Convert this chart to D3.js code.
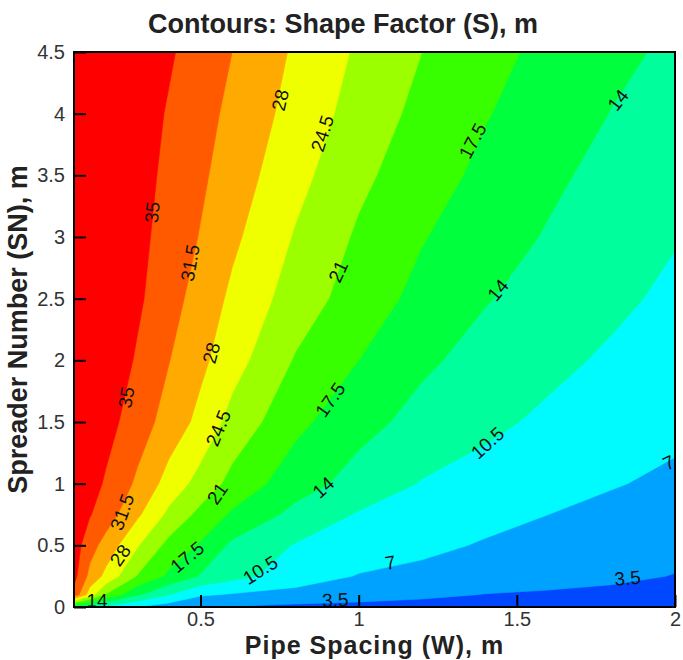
<!DOCTYPE html>
<html>
<head>
<meta charset="utf-8">
<script src="https://cdn.jsdelivr.net/npm/d3@7"></script>
<style>
  body { margin: 0; background: #fff; }
  svg text { font-family: "Liberation Sans", Arial, Helvetica, sans-serif; }
</style>
</head>
<body>
<svg id="chart" width="683" height="660"></svg>
<script>
// grid columns: pipe spacing W (m)
var pipeSpacing = [0.1, 0.15, 0.2, 0.3, 0.4, 0.5, 0.6, 0.8, 1.0, 1.2, 1.4, 1.6, 1.8, 2.0];
// grid rows: spreader number SN (m)
var spreaderNumber = [0, 0.1, 0.25, 0.5, 0.75, 1, 1.5, 2, 2.5, 3, 3.5, 4, 4.5];
// shape factor S (m), one row per SN value
var shapeFactor = [
  [14.5, 11.5,  9.5,  7.0,  5.2,  3.9,  3.3,  2.7,  2.4,  2.2,  2.0,  1.9,  1.8,  1.7],
  [34.0, 26.3, 20.8, 14.5, 10.6,  7.4,  6.7,  5.9,  5.1,  4.2,  3.4,  3.1,  2.8,  2.4],
  [36.0, 30.5, 27.1, 20.8, 16.8, 13.7, 11.7,  8.7,  6.8,  6.1,  5.4,  4.7,  4.1,  3.4],
  [36.7, 32.9, 30.2, 24.8, 19.9, 17.1, 13.3, 10.3,  9.0,  7.8,  6.7,  6.0,  5.2,  4.4],
  [37.1, 35.2, 33.3, 28.6, 23.7, 20.0, 17.0, 13.0, 10.2,  9.1,  8.0,  7.0,  6.2,  5.4],
  [38.2, 36.4, 34.6, 30.9, 26.6, 23.2, 19.9, 15.5, 12.7, 10.3,  9.3,  8.3,  7.2,  6.4],
  [39.5, 37.9, 36.3, 33.2, 30.1, 27.0, 23.3, 18.4, 15.1, 12.9, 11.2,  9.9,  8.8,  7.8],
  [40.3, 39.0, 37.5, 34.6, 31.6, 28.8, 25.9, 20.7, 17.5, 14.6, 12.8, 11.3, 10.0,  8.8],
  [40.9, 39.6, 38.2, 35.6, 32.8, 30.1, 27.3, 22.9, 19.3, 16.5, 14.2, 12.7, 11.2,  9.8],
  [41.3, 40.0, 38.3, 36.0, 33.6, 31.3, 28.7, 24.2, 20.5, 17.7, 15.6, 13.7, 12.2, 10.7],
  [41.7, 40.4, 38.6, 36.3, 34.2, 32.1, 29.8, 25.6, 21.8, 19.0, 16.7, 14.7, 12.9, 11.4],
  [42.1, 40.8, 38.9, 36.6, 34.7, 32.7, 30.7, 26.7, 23.1, 20.0, 17.7, 15.8, 13.9, 12.4],
  [42.5, 41.2, 39.4, 37.3, 35.4, 33.5, 31.5, 27.5, 24.0, 21.0, 18.6, 16.6, 14.9, 13.3]
];
var levels = [3.5, 7, 10.5, 14, 17.5, 21, 24.5, 28, 31.5, 35];
var bandColors = ["#0048ff", "#00a2ff", "#00fbff", "#00ff9c", "#00ff3c", "#38ff00",
                  "#9cff00", "#f0ff00", "#ffaa00", "#ff5a00", "#ff0000"];
var xTicks = [0.5, 1, 1.5, 2];
var yTicks = [0, 0.5, 1, 1.5, 2, 2.5, 3, 3.5, 4, 4.5];
// contour labels: [W, SN, level, angle]
var contourLabels = [
  [0.347, 3.20, 35, -84], [0.265, 1.70, 35, -80],
  [0.467, 2.79, 31.5, -80], [0.252, 0.77, 31.5, -70],
  [0.752, 4.11, 28, -77], [0.534, 2.06, 28, -75], [0.246, 0.42, 28, -55],
  [0.885, 3.84, 24.5, -72], [0.556, 1.45, 24.5, -68],
  [0.935, 2.72, 21, -65], [0.553, 0.92, 21, -55],
  [1.36, 3.78, 17.5, -62], [0.91, 1.68, 17.5, -55], [0.458, 0.405, 17.5, -40],
  [1.82, 4.11, 14, -52], [1.44, 2.57, 14, -50], [0.888, 0.97, 14, -42], [0.173, 0.05, 14, 0],
  [1.407, 1.33, 10.5, -42], [0.689, 0.30, 10.5, -32],
  [1.1, 0.36, 7, -10], [1.98, 1.17, 7, -25],
  [1.85, 0.235, 3.5, -5], [0.926, 0.057, 3.5, -3]
];

var svg = d3.select("#chart");
var plot = {left: 74, right: 675, top: 52, bottom: 607};

var x = d3.scaleLinear().domain([0.1, 2]).range([plot.left, plot.right]);
var y = d3.scaleLinear().domain([0, 4.5]).range([plot.bottom, plot.top]);

// grid index -> data value (grid is not evenly spaced)
var colToW = d3.scaleLinear().domain(d3.range(pipeSpacing.length)).range(pipeSpacing).clamp(true);
var rowToSN = d3.scaleLinear().domain(d3.range(spreaderNumber.length)).range(spreaderNumber).clamp(true);

var gridToScreen = d3.geoTransform({
  point: function(gx, gy) {
    this.stream.point(x(colToW(gx - 0.5)), y(rowToSN(gy - 0.5)));
  }
});
var path = d3.geoPath(gridToScreen);

var bands = d3.contours()
  .size([pipeSpacing.length, spreaderNumber.length])
  .thresholds(levels)(d3.merge(shapeFactor));

svg.append("clipPath").attr("id", "plotClip")
  .append("rect")
  .attr("x", plot.left).attr("y", plot.top)
  .attr("width", plot.right - plot.left).attr("height", plot.bottom - plot.top);

var area = svg.append("g").attr("clip-path", "url(#plotClip)");

area.append("rect")
  .attr("x", plot.left).attr("y", plot.top)
  .attr("width", plot.right - plot.left).attr("height", plot.bottom - plot.top)
  .style("fill", bandColors[0]);

area.selectAll("path.band")
  .data(bands)
  .enter().append("path")
  .attr("class", "band")
  .attr("d", path)
  .style("fill", function(d, i) { return bandColors[i + 1]; })
  .style("stroke", function(d, i) { return bandColors[i + 1]; })
  .style("stroke-width", 0.6);

// contour labels
area.selectAll("text.clabel")
  .data(contourLabels)
  .enter().append("text")
  .attr("class", "clabel")
  .attr("transform", function(d) {
    return "translate(" + x(d[0]) + "," + y(d[1]) + ") rotate(" + d[3] + ")";
  })
  .attr("text-anchor", "middle")
  .attr("dy", "0.35em")
  .style("font-size", "19px")
  .style("fill", "#111")
  .text(function(d) { return String(d[2]); });

// axes, ticks pointing inward
var xAxis = d3.axisBottom(x).tickValues(xTicks)
  .tickSizeInner(-12).tickSizeOuter(0).tickPadding(5)
  .tickFormat(d3.format(""));
var yAxis = d3.axisLeft(y).tickValues(yTicks)
  .tickSizeInner(-12).tickSizeOuter(0).tickPadding(9)
  .tickFormat(d3.format(""));

var gx = svg.append("g").attr("transform", "translate(0," + plot.bottom + ")").call(xAxis);
var gy = svg.append("g").attr("transform", "translate(" + plot.left + ",0)").call(yAxis);
[gx, gy].forEach(function(g) {
  g.select(".domain").remove();
  g.selectAll(".tick line").style("stroke", "#000").style("stroke-width", 2);
  g.selectAll(".tick text")
    .style("font-size", "20px")
    .style("fill", "#333")
    .attr("font-family", null);
});

svg.append("rect")
  .attr("x", plot.left).attr("y", plot.top)
  .attr("width", plot.right - plot.left).attr("height", plot.bottom - plot.top)
  .style("fill", "none").style("stroke", "#000").style("stroke-width", 2);

// titles
svg.append("text")
  .attr("x", 343).attr("y", 33)
  .attr("text-anchor", "middle")
  .style("font-size", "27px").style("font-weight", "bold").style("fill", "#222")
  .text("Contours: Shape Factor (S), m");

svg.append("text")
  .attr("x", (plot.left + plot.right) / 2).attr("y", 654)
  .attr("text-anchor", "middle")
  .style("font-size", "25px").style("font-weight", "bold")
  .style("letter-spacing", "1px").style("fill", "#222")
  .text("Pipe Spacing (W), m");

svg.append("text")
  .attr("transform", "translate(27," + (plot.top + plot.bottom) / 2 + ") rotate(-90)")
  .attr("text-anchor", "middle")
  .style("font-size", "27px").style("font-weight", "bold").style("fill", "#222")
  .text("Spreader Number (SN), m");
</script>
</body>
</html>
